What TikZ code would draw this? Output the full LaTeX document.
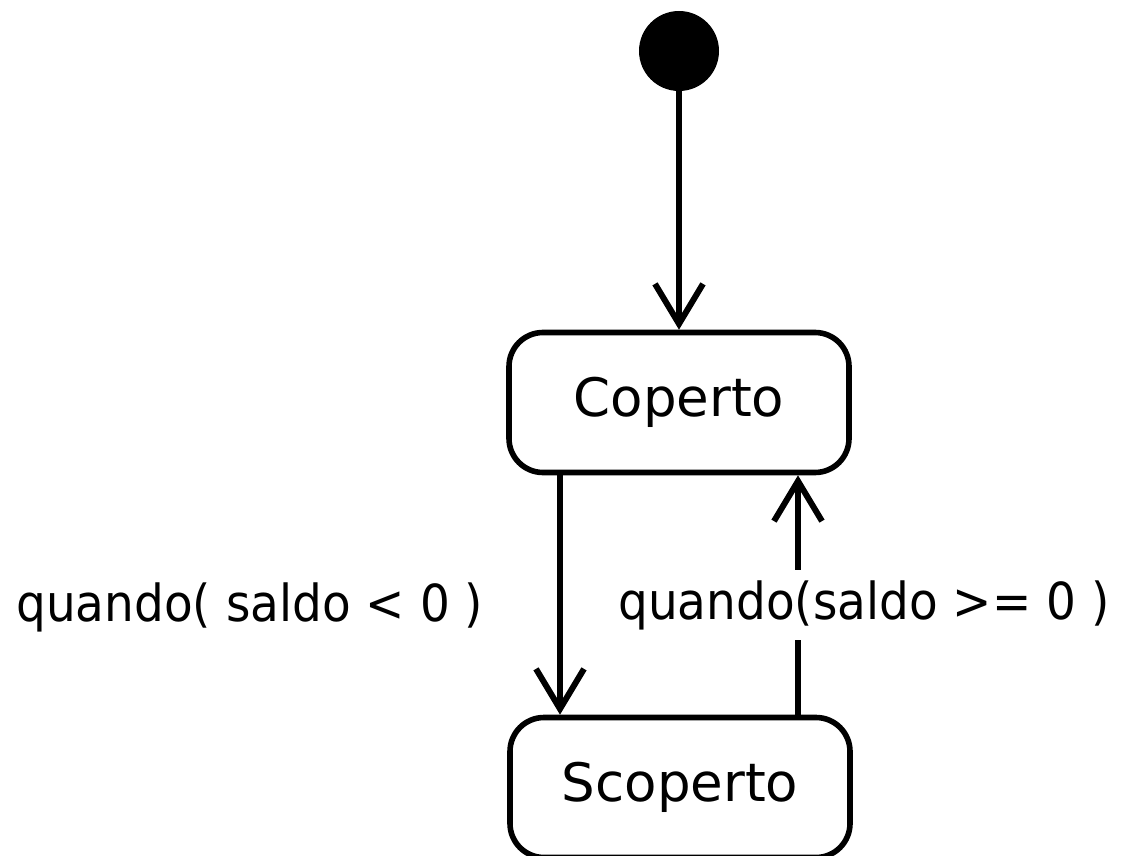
\documentclass[tikz,border=0pt]{standalone}
\usepackage{fontspec}
\setmainfont{DejaVu Sans}
\newfontfamily\lblfont{DejaVu Sans}[FakeStretch=0.92]
\usetikzlibrary{arrows.meta}
\begin{document}
\begin{tikzpicture}[x=0.5pt,y=-0.5pt,
  state/.style={draw=black,line width=2.8pt,rounded corners=17pt,minimum width=170pt,minimum height=70pt,inner sep=0pt,font=\fontsize{26.5}{30}\selectfont},
  initstate/.style={circle,fill=black,minimum size=40pt,inner sep=0pt},
  trans/.style={line width=3pt,-{Straight Barb[length=20pt,width=24pt,line width=3pt]}},
  guard/.style={font=\lblfont\fontsize{25.5}{30}\selectfont,inner xsep=1pt,inner ysep=5pt}]
\useasboundingbox (0,0) rectangle (1146,856);
\fill[white] (0,0) rectangle (1146,856);
\node[initstate] (init) at (679,51) {};
\node[state] (cop) at (679,402.5) {Coperto};
\node[state] (scop) at (680,787.5) {Scoperto};
\draw[trans] (init) -- (cop);
\draw[trans] ([xshift=-59.5pt]cop.south) -- ([xshift=-60pt]scop.north);
\draw[trans] ([xshift=59pt]scop.north) -- ([xshift=59.5pt]cop.south);
\node[guard,anchor=base west] (g1) at (14,621) {quando( saldo < 0 )};
\node[guard,anchor=base west,fill=white] (g2) at (616,619) {quando(saldo >= 0 )};
\end{tikzpicture}
\end{document}
